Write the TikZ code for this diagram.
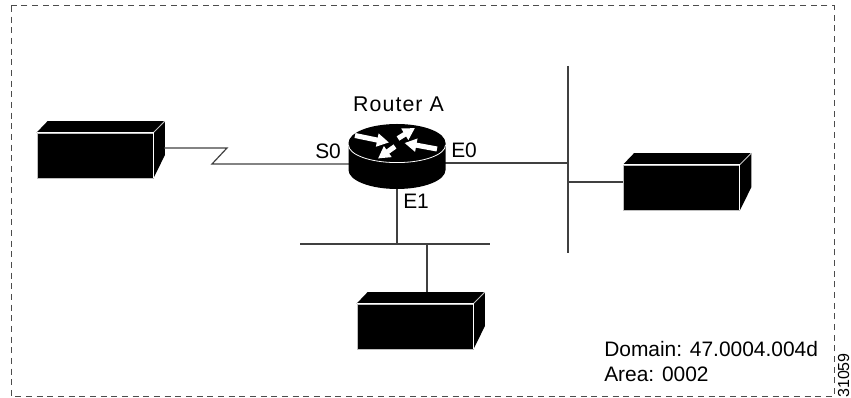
\documentclass[tikz,border=0pt]{standalone}
\usepackage{fontspec}
\setmainfont{Liberation Sans}
\usetikzlibrary{arrows.meta,calc}
\tikzset{
  x=0.75pt,y=-0.75pt,
  link/.style={draw=black!75,line width=0.9pt},
  frontface/.style={fill=black,draw=white!75!black,line width=0.6pt,inner sep=0,minimum width=87pt,minimum height=33.75pt},
  label/.style={inner sep=0,font=\fontsize{15.7}{18}\selectfont},
  flow/.style={white,line width=3.8pt,-{Triangle[length=9pt,width=9.5pt]},shorten >=0pt},
}
\newcommand{\threedbox}[2]{%
  \node[frontface] (#1) at (#2) {};
  \fill[black] (#1.north west) -- ++(11,-11.5) -- ++(116.5,0) -- (#1.north east) -- cycle;
  \fill[black] (#1.north east) -- ++(11.5,-11.5) -- ++(0,34) -- (#1.south east) -- cycle;
  \draw[white!75!black,line width=0.6pt] (#1.north east) -- ++(11.5,-11.5);
  \draw[white,line width=0.7pt] (#1.north west) -- (#1.north east) -- (#1.south east);
}
\begin{document}
\begin{tikzpicture}
\useasboundingbox (0,0) rectangle (851,398);
\draw[black!70,line width=0.75pt,dash pattern=on 4.5pt off 3.5pt] (11,6) rectangle (834,396.5);

% hosts
\threedbox{hostw}{95,155.5}
\threedbox{hosts}{415,326.5}
\threedbox{hoste}{681.5,187.5}

% connectors
\coordinate (zigA) at (227,148);
\coordinate (zigB) at (212,164);
\coordinate (rS) at (350,164);
\coordinate (rE) at (445,163);
\coordinate (rD) at (397,186);
\coordinate (busEtop) at (568,66);
\coordinate (busEbot) at (568,253);
\coordinate (busSl) at (300,244);
\coordinate (busSr) at (490,244);
\coordinate (tapE) at (568,182);
\coordinate (tapEin) at (568,163);
\coordinate (tapS) at (397,244);
\coordinate (tapH) at (427,244);
\coordinate (hostsTop) at (427,292);
\coordinate (hostwR) at (164,148);
\draw[link,line join=miter] (hostwR) -- (zigA) -- (zigB) -- (rS);
\draw[link] (rE) -- (tapEin);
\draw[link] (busEtop) -- (busEbot);
\draw[link] (tapE) -- (hoste.west |- tapE);
\draw[link] (busSl) -- (busSr);
\draw[link] (rD) -- (tapS);
\draw[link] (tapH) -- (hostsTop);

% router
\node[inner sep=0,minimum size=0pt] (router) at (397,143) {};
\fill[black] (348.5,143) -- (348.5,170) arc[start angle=180,end angle=360,x radius=36.375pt,y radius=14.25pt] -- (445.5,143) arc[start angle=0,end angle=180,x radius=36.375pt,y radius=14.25pt] -- cycle;
\draw[white,line width=0.6pt] (348.5,145) arc[start angle=180,end angle=360,x radius=36.375pt,y radius=13.2pt];
\coordinate (a1t) at (355,135.5); \coordinate (a1h) at (389,142.5);
\coordinate (a2t) at (398,138.5); \coordinate (a2h) at (415,128);
\coordinate (a3t) at (437,149);   \coordinate (a3h) at (404.5,143);
\coordinate (a4t) at (395,146.5); \coordinate (a4h) at (378,158.5);
\draw[flow] (a1t) -- (a1h);
\draw[flow] (a2t) -- (a2h);
\draw[flow] (a3t) -- (a3h);
\draw[flow] (a4t) -- (a4h);

% labels
\node[label,anchor=base,font=\fontsize{16}{18}\selectfont\addfontfeature{LetterSpace=5}] (lbR) at (398.5,112) {Router A};
\node[label,anchor=base west] (lbS) at (315,158.5) {S0};
\node[label,anchor=base west] (lbE) at (451,158) {E0};
\node[label,anchor=base west] (lbF) at (403,209) {E1};
\node[label,anchor=base west] (lbD) at (604,357) {Domain: 47.0004.004d};
\node[label,anchor=base west] (lbA) at (604,382) {Area: 0002};
\node[inner sep=0,font=\fontsize{12}{14}\selectfont,rotate=90,anchor=base west] (lbN) at (849,398) {31059};
\end{tikzpicture}
\end{document}
